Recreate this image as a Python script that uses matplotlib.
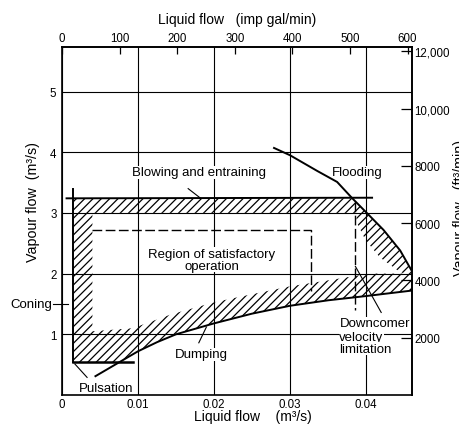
import numpy as np
import matplotlib
matplotlib.use('Agg')
import matplotlib.pyplot as plt
from matplotlib.path import Path
from matplotlib.patches import PathPatch

plt.rcParams['font.family'] = ['Liberation Sans', 'DejaVu Sans']
plt.rcParams['hatch.linewidth'] = 0.9

# ---------------- data ----------------
x_ticks = [0, 0.01, 0.02, 0.03, 0.04]
x_ticklabels = ['0', '0.01', '0.02', '0.03', '0.04']
y_ticks = [1, 2, 3, 4, 5]
top_ticks = [0, 100, 200, 300, 400, 500, 600]            # imp gal/min
right_ticks = [2000, 4000, 6000, 8000, 10000, 12000]     # ft3/min
right_ticklabels = ['2000', '4000', '6000', '8000', '10,000', '12,000']

flood_x = [0.0279, 0.0300, 0.0336, 0.0362, 0.0382, 0.0401, 0.0423, 0.0445, 0.0460]
flood_y = [4.07, 3.95, 3.69, 3.51, 3.24, 3.00, 2.72, 2.38, 2.05]

dump_x = [0.0044, 0.0074, 0.0100, 0.0125, 0.0150, 0.0200, 0.0250, 0.0300, 0.0350, 0.0400, 0.0460]
dump_y = [0.31, 0.53, 0.72, 0.87, 1.00, 1.18, 1.34, 1.47, 1.56, 1.63, 1.72]

blow_x = [0.0006, 0.0408]
blow_y = [3.24, 3.25]

coning_x = [0.0014, 0.0014]
coning_y = [0.54, 3.39]

pulse_x = [0.0014, 0.0093]
pulse_y = [0.54, 0.54]

# inner boundary of the hatched band (edge of the satisfactory region)
inner_left_x = 0.0040
inner_top_y = 3.00
inner_right_x = [0.0387, 0.0388, 0.0399, 0.0418, 0.0442, 0.0450]
inner_right_y = [3.00, 2.84, 2.56, 2.27, 2.05, 2.00]
inner_low_x = [0.0040, 0.0093, 0.0144, 0.0201, 0.0250, 0.0300, 0.0356, 0.0390, 0.0410]
inner_low_y = [1.05, 1.10, 1.33, 1.53, 1.66, 1.79, 1.90, 1.97, 2.00]

sat_x = [0.0040, 0.0327, 0.0327]
sat_y = [2.72, 2.72, 1.72]
downc_x = [0.0385, 0.0385]
downc_y = [3.18, 1.40]

x_max = 0.046
y_max = 5.73

M3S_PER_GPM = 4.54609e-3 / 60.0
FT3MIN_PER_M3S = 2118.88

# ---------------- figure ----------------
fig = plt.figure(figsize=(4.59, 4.27), dpi=100)
ax = fig.add_axes([62 / 459, 31 / 427, (x_max * 7600) / 459, (y_max * 60.7) / 427])
ax.set_xlim(0, x_max)
ax.set_ylim(0, y_max)

for s in ax.spines.values():
    s.set_linewidth(1.2)

ax.set_xticks(x_ticks)
ax.set_xticklabels(x_ticklabels)
ax.set_yticks(y_ticks)
ax.tick_params(axis='both', length=0, labelsize=8.3)
ax.tick_params(axis='x', pad=2)
ax.tick_params(axis='y', pad=4)
ax.tick_params(top=False, right=False)
ax.grid(True, color='black', linewidth=0.8, zorder=1)
ax.set_axisbelow(True)

# hatched band
xi = float(np.interp(pulse_y[0], dump_y, dump_x))
outer = [(coning_x[0], pulse_y[0]), (xi, pulse_y[0])]
outer += [(x, y) for x, y in zip(dump_x, dump_y) if x > xi]
outer += [(x, y) for x, y in reversed(list(zip(flood_x, flood_y))) if y <= blow_y[0]]
outer += [(coning_x[0], blow_y[0])]
inner = [(inner_left_x, inner_low_y[0]), (inner_left_x, inner_top_y)]
inner += list(zip(inner_right_x, inner_right_y))
inner += list(reversed(list(zip(inner_low_x, inner_low_y))))
verts = outer + [outer[0]] + inner + [inner[0]]
codes = ([Path.MOVETO] + [Path.LINETO] * (len(outer) - 1) + [Path.CLOSEPOLY] +
         [Path.MOVETO] + [Path.LINETO] * (len(inner) - 1) + [Path.CLOSEPOLY])
patch = PathPatch(Path(verts, codes), facecolor='none', edgecolor='black',
                  linewidth=0, hatch='////', zorder=2)
ax.add_patch(patch)

# boundary lines
lw = 1.4
ax.plot(flood_x, flood_y, color='black', lw=lw, zorder=5)
ax.plot(dump_x, dump_y, color='black', lw=lw, zorder=5)
ax.plot(blow_x, blow_y, color='black', lw=lw, zorder=5)
ax.plot(coning_x, coning_y, color='black', lw=lw, zorder=5)
ax.plot(pulse_x, pulse_y, color='black', lw=1.8, zorder=5)
ax.plot(sat_x, sat_y, color='black', lw=1.0, dashes=(7, 2.5), zorder=5)
ax.plot(downc_x, downc_y, color='black', lw=1.0, dashes=(7, 2.5), zorder=5)

# leader lines
lead = dict(color='black', lw=0.8, zorder=5)
ax.plot([0.0166, 0.0182], [3.40, 3.245], **lead)
ax.plot([0.0180, 0.0190], [0.86, 1.12], **lead)
ax.plot([0.0017, 0.0033], [0.51, 0.29], **lead)
ax.plot([0.0386, 0.0420], [2.12, 1.36], **lead)
ax.plot([-0.0012, 0.0008], [1.50, 1.50], clip_on=False, **lead)

# labels inside
bb = dict(boxstyle='square,pad=0.05', facecolor='white', edgecolor='none')
fs = 9.5
ax.text(0.0388, 3.62, 'Flooding', ha='center', va='baseline', fontsize=fs, bbox=bb, zorder=3)
ax.text(0.0180, 3.62, 'Blowing and entraining', ha='center', va='baseline', fontsize=fs, bbox=bb, zorder=3)
ax.text(0.0197, 2.28, 'Region of satisfactory', ha='center', va='baseline', fontsize=fs, bbox=bb, zorder=3)
ax.text(0.0197, 2.08, 'operation', ha='center', va='baseline', fontsize=fs, bbox=bb, zorder=3)
ax.text(0.0184, 0.62, 'Dumping', ha='center', va='baseline', fontsize=fs, bbox=bb, zorder=3)
ax.text(0.0058, 0.07, 'Pulsation', ha='center', va='baseline', fontsize=fs, bbox=bb, zorder=3)
ax.text(0.0365, 1.13, 'Downcomer', ha='left', va='baseline', fontsize=fs, bbox=bb, zorder=3)
ax.text(0.0365, 0.91, 'velocity', ha='left', va='baseline', fontsize=fs, bbox=bb, zorder=3)
ax.text(0.0365, 0.715, 'limitation', ha='left', va='baseline', fontsize=fs, bbox=bb, zorder=3)
ax.text(-0.0013, 1.50, 'Coning', ha='right', va='center', fontsize=fs, clip_on=False)

# secondary axes
secx = ax.secondary_xaxis('top', functions=(lambda m: m / M3S_PER_GPM, lambda g: g * M3S_PER_GPM))
secx.set_xticks(top_ticks)
secx.tick_params(direction='in', length=5, width=0.9, labelsize=8.3, pad=2)
secx.spines['top'].set_linewidth(1.2)

secy = ax.secondary_yaxis('right', functions=(lambda m: m * FT3MIN_PER_M3S, lambda f: f / FT3MIN_PER_M3S))
secy.set_yticks(right_ticks)
secy.set_yticklabels(right_ticklabels)
secy.tick_params(direction='in', length=8, width=0.9, labelsize=8.3, pad=2)
secy.spines['right'].set_linewidth(1.2)

# axis titles
fig.text(253 / 459, 6 / 427, 'Liquid flow    (m³/s)', ha='center', va='baseline', fontsize=10)
fig.text(237 / 459, (427 - 24) / 427, 'Liquid flow   (imp gal/min)', ha='center', va='baseline', fontsize=10)
fig.text(26 / 459, (427 - 202) / 427, 'Vapour flow  (m³/s)', ha='left', va='center',
         rotation=90, fontsize=10.3)
fig.text(453 / 459, (427 - 208) / 427, 'Vapour flow   (ft³/min)', ha='left', va='center',
         rotation=90, fontsize=10.3)

fig.savefig('out.png', dpi=100, facecolor='white')
